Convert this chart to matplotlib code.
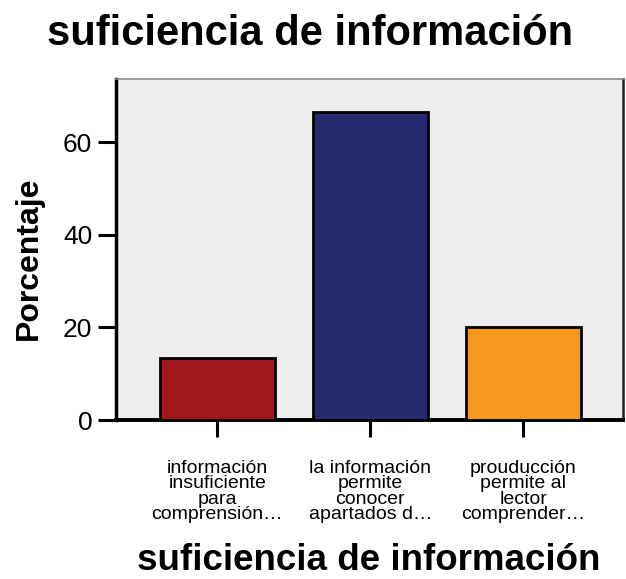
import matplotlib
matplotlib.use('Agg')
import matplotlib.pyplot as plt

plt.rcParams['font.family'] = ['Liberation Sans', 'DejaVu Sans']

# data
categories = ['información\ninsuficiente\npara\ncomprensión…',
              'la información\npermite\nconocer\napartados d…',
              'prouducción\npermite al\nlector\ncomprender…']
percent = [13.33, 66.67, 20.0]
colors = ['#A1171C', '#282A70', '#F7981F']
yticks = [0, 20, 40, 60]

fig = plt.figure(figsize=(6.26, 5.79), dpi=100)
ax = fig.add_axes([0.185, 0.2746, 0.81, 0.589])
ax.set_facecolor('#EEEEEE')

x = range(len(categories))
ax.bar(x, percent, width=0.75, color=colors, edgecolor='black', linewidth=2, zorder=3)

ax.set_xlim(-0.663, 2.65)
ax.set_ylim(0, 73.7)
ax.set_xticks(list(x))
ax.set_xticklabels(categories, fontsize=14, linespacing=0.86)
ax.set_yticks(yticks)
ax.tick_params(axis='y', labelsize=19, length=13, width=2.2, pad=4)
ax.tick_params(axis='x', length=12, width=2.2, pad=17)

ax.spines['left'].set_linewidth(2.5)
ax.spines['bottom'].set_linewidth(2.8)
ax.spines['top'].set_color('#888888')
ax.spines['top'].set_linewidth(1.2)
ax.spines['right'].set_color('#222222')
ax.spines['right'].set_linewidth(1.8)

fig.text(0.046, 0.554, 'Porcentaje', fontsize=23, fontweight='bold',
         rotation=90, ha='center', va='center')
fig.text(0.589, 0.016, 'suficiencia de información', fontsize=26.5, fontweight='bold',
         ha='center', va='baseline')
fig.text(0.495, 0.9223, 'suficiencia de información', fontsize=30, fontweight='bold',
         ha='center', va='baseline')

fig.savefig('out.png', dpi=100)
